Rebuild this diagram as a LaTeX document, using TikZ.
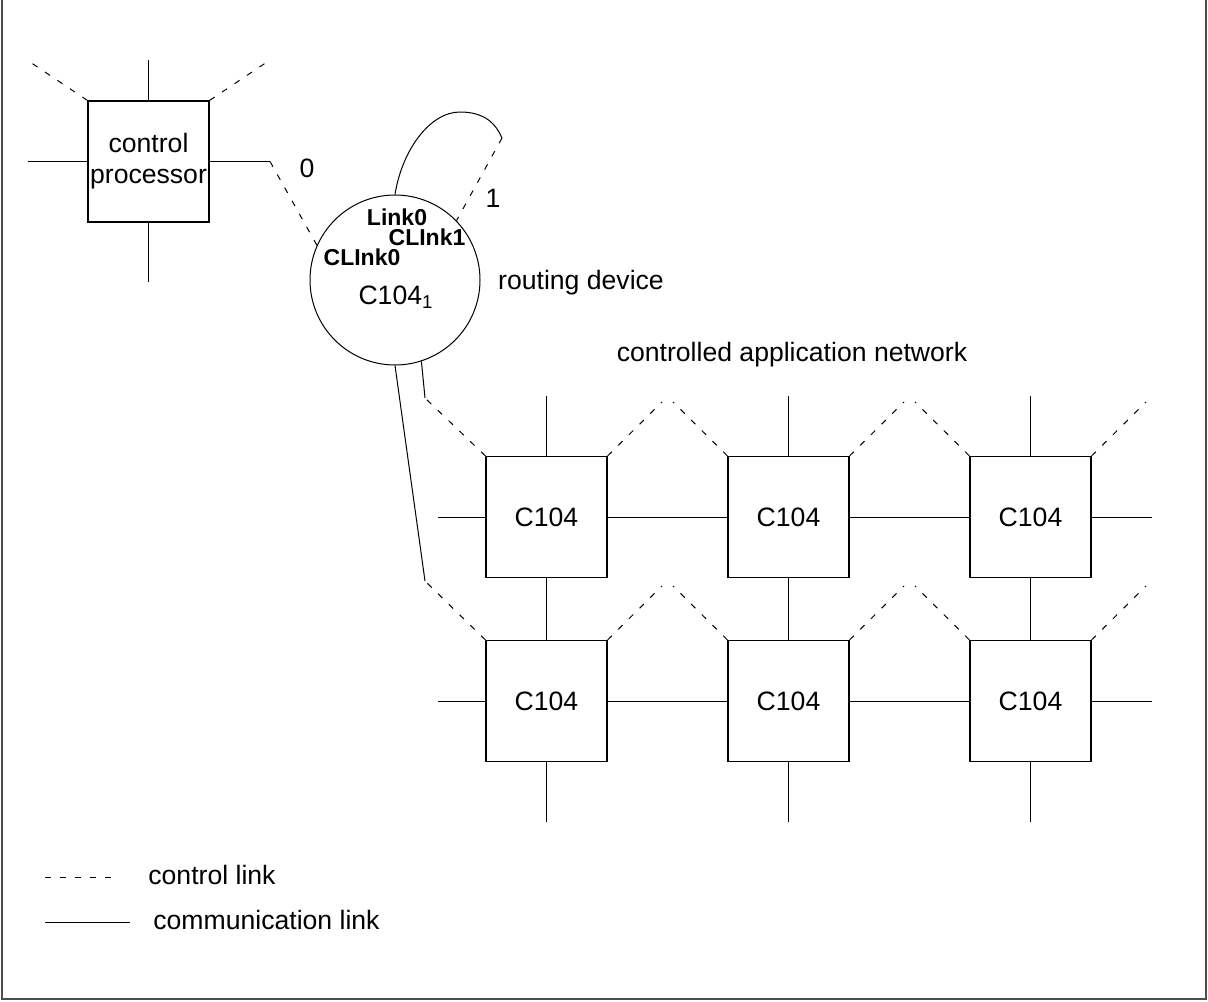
\documentclass[tikz,border=0pt]{standalone}
\usepackage{fontspec}
\setmainfont{Liberation Sans}
\usetikzlibrary{calc}

\begin{document}
\begin{tikzpicture}[x=0.5pt, y=-0.5pt,
                    every node/.style={font=\fontsize{13.3}{15.5}\selectfont, inner sep=0pt},
                    chip/.style={draw, line width=0.6pt, minimum width=60.5pt, minimum height=60.5pt},
                    router/.style={draw, circle, line width=0.5pt, minimum size=85pt},
                    port/.style={font=\fontsize{11.5}{13}\selectfont\bfseries},
                    comm/.style={line width=0.5pt},
                    ctrl/.style={line width=0.5pt, dash pattern=on 3pt off 4.5pt}]

\useasboundingbox (0,0) rectangle (1208,1001);

%frame
\draw [line width=0.8pt, black!70] (2,0) -- (2,999) -- (1206,999) -- (1206,0);

%control processor
\node [chip, align=center] (cp) at (148.5,161.5) {control\\processor};
\coordinate (cpT) at (148.5,60);
\coordinate (cpL) at (28,161.5);
\coordinate (cpR) at (270,161.5);
\coordinate (cpB) at (148.5,282);
\coordinate (cpTL) at (27,60);
\coordinate (cpTR) at (270,60);
\draw [comm] (cp.north) -- (cpT);
\draw [comm] (cp.west) -- (cpL);
\draw [comm] (cp.east) -- (cpR);
\draw [comm] (cp.south) -- (cpB);
\draw [ctrl] (cp.north west) -- (cpTL);
\draw [ctrl] (cp.north east) -- (cpTR);

%routing device
\node [router] (rd) at (395,280) {};
\node (rdname) at (396,297) {C104\textsubscript{1}};
\node [port] (link0) at (397,217) {Link0};
\node [port] (clink1) at (427,237) {CLInk1};
\node [port] (clink0) at (362,257) {CLInk0};
\node (rdlabel) at (581,283) {routing device};

%control link 0
\draw [ctrl] (cpR) -- (rd.156.4);
\node (zero) at (307,168) {0};

%loop Link0 -> CLInk1
\coordinate (lpE) at (502,138);
\draw [comm] (rd.north) .. controls (402,150) and (430,112) .. (460,112)
                        .. controls (485,112) and (496,124) .. (lpE);
\draw [ctrl] (lpE) -- (rd.44);
\node (one) at (493,198) {1};

%links down to the network
\coordinate (rdA) at (425,398);
\coordinate (rdB) at (425,581);
\draw [comm] (rd.-72) -- (rdA);
\draw [comm] (rd.south) -- (rdB);

% network
\node (netlabel) at (792,355) {controlled application network};

\node [chip] (n11) at (546.5,517) {C104};
\node [chip] (n12) at (788.5,517) {C104};
\node [chip] (n13) at (1030.5,517) {C104};
\node [chip] (n21) at (546.5,701) {C104};
\node [chip] (n22) at (788.5,701) {C104};
\node [chip] (n23) at (1030.5,701) {C104};

%rows
\coordinate (w1) at (438,517);
\coordinate (e1) at (1152,517);
\coordinate (w2) at (438,701);
\coordinate (e2) at (1152,701);
\draw [comm] (w1) -- (n11) -- (n12) -- (n13) -- (e1);
\draw [comm] (w2) -- (n21) -- (n22) -- (n23) -- (e2);

%columns
\coordinate (t1) at (546.5,396);
\coordinate (t2) at (788.5,396);
\coordinate (t3) at (1030.5,396);
\coordinate (b1) at (546.5,822);
\coordinate (b2) at (788.5,822);
\coordinate (b3) at (1030.5,822);
\draw [comm] (t1) -- (n11) -- (n21) -- (b1);
\draw [comm] (t2) -- (n12) -- (n22) -- (b2);
\draw [comm] (t3) -- (n13) -- (n23) -- (b3);

%control links of the network
\coordinate (n11r) at (662,402);
\coordinate (n12l) at (673,402);
\coordinate (n12r) at (904,402);
\coordinate (n13l) at (915,402);
\coordinate (n13r) at (1146,402);
\coordinate (n21r) at (662,586);
\coordinate (n22l) at (673,586);
\coordinate (n22r) at (904,586);
\coordinate (n23l) at (915,586);
\coordinate (n23r) at (1146,586);
\draw [ctrl] (n11.north west) -- (rdA);
\draw [ctrl] (n11.north east) -- (n11r);
\draw [ctrl] (n12.north west) -- (n12l);
\draw [ctrl] (n12.north east) -- (n12r);
\draw [ctrl] (n13.north west) -- (n13l);
\draw [ctrl] (n13.north east) -- (n13r);
\draw [ctrl] (n21.north west) -- (rdB);
\draw [ctrl] (n21.north east) -- (n21r);
\draw [ctrl] (n22.north west) -- (n22l);
\draw [ctrl] (n22.north east) -- (n22r);
\draw [ctrl] (n23.north west) -- (n23l);
\draw [ctrl] (n23.north east) -- (n23r);

%legend
\coordinate (lgA) at (45,877);
\coordinate (lgB) at (120,877);
\coordinate (lgC) at (45,922);
\coordinate (lgD) at (130,922);
\draw [ctrl] (lgA) -- (lgB);
\draw [comm] (lgC) -- (lgD);
\node [anchor=west] (lgctrl) at (148,875) {control link};
\node [anchor=west] (lgcomm) at (153,920) {communication link};

\end{tikzpicture}
\end{document}
